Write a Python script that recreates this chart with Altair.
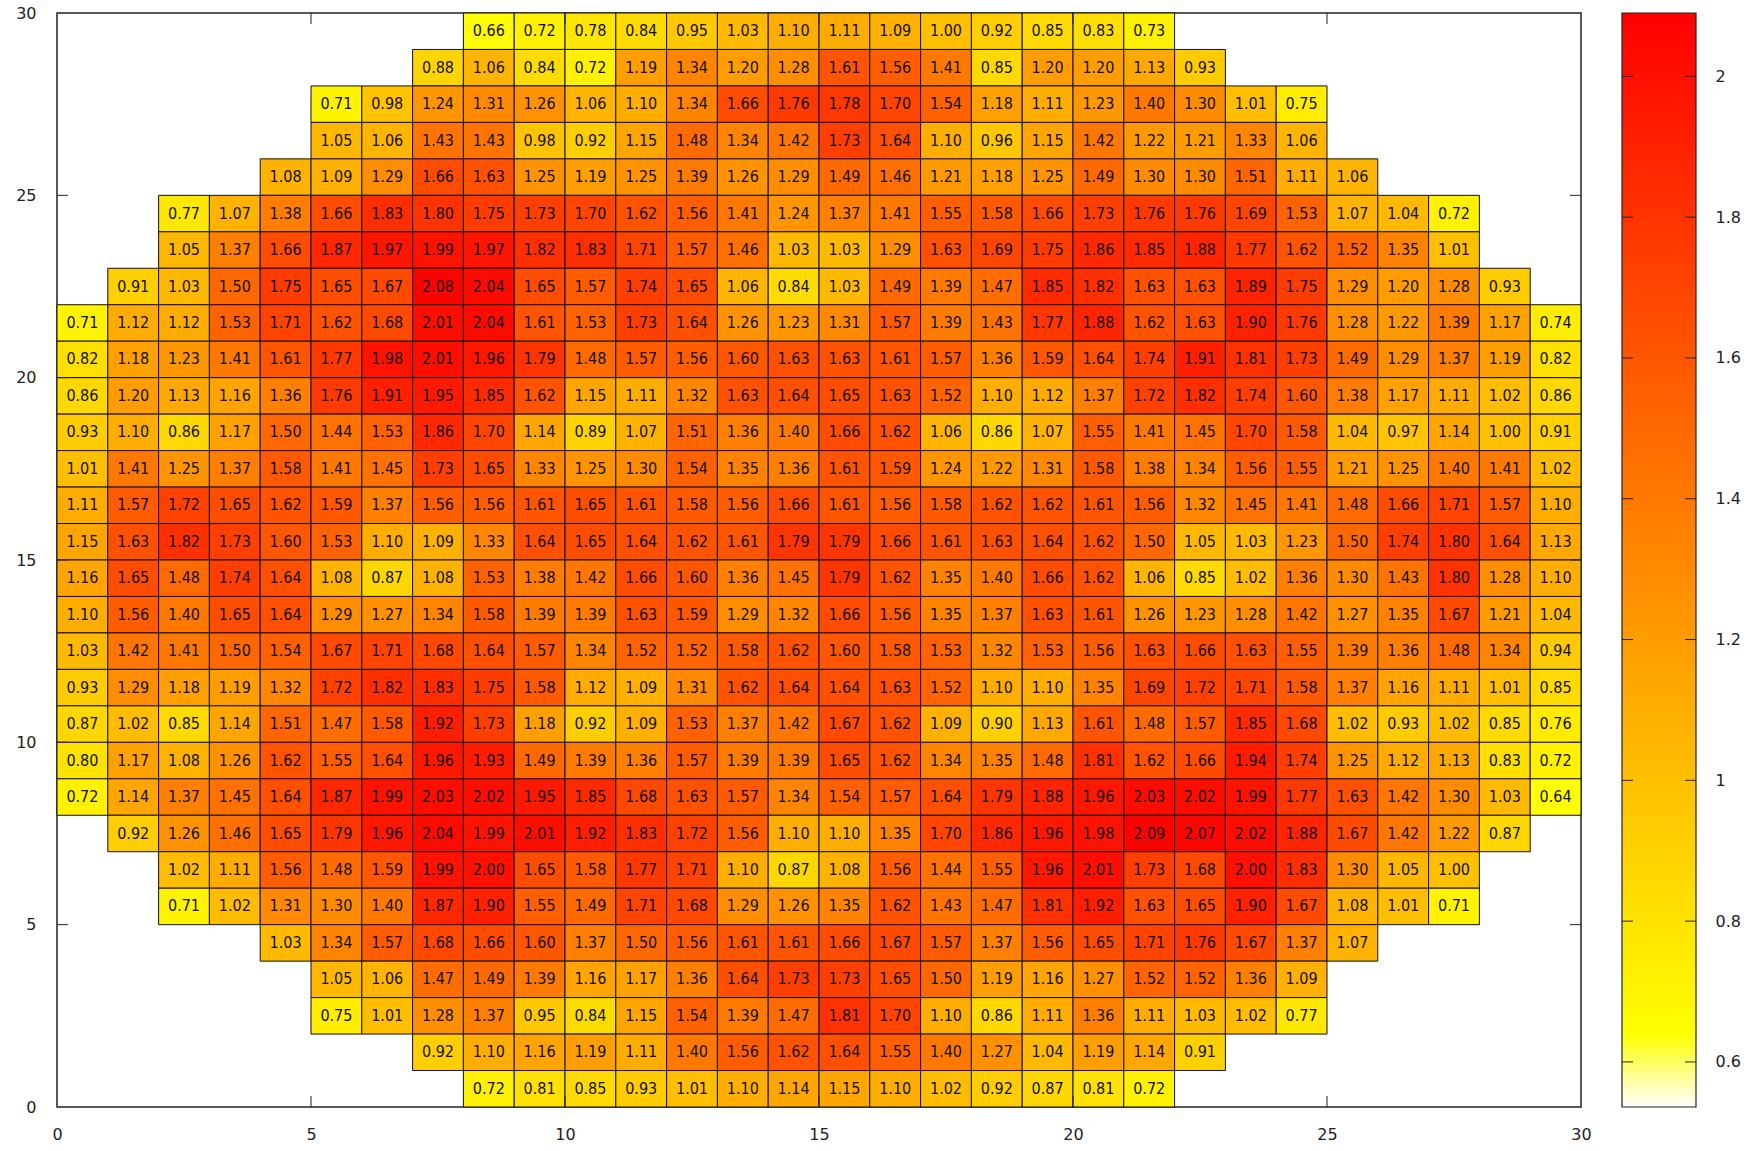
import altair as alt
import pandas as pd

# ---- data (rows listed from top y=29 down to y=0) ----
row_y = list(range(29, -1, -1))
first_col = [8, 7, 5, 5, 4, 2, 2, 1, 0, 0, 0, 0, 0, 0, 0, 0, 0, 0, 0, 0, 0, 0, 1, 2, 2, 4, 5, 5, 7, 8]

r29 = [0.66, 0.72, 0.78, 0.84, 0.95, 1.03, 1.10, 1.11, 1.09, 1.00, 0.92, 0.85, 0.83, 0.73]
r28 = [0.88, 1.06, 0.84, 0.72, 1.19, 1.34, 1.20, 1.28, 1.61, 1.56, 1.41, 0.85, 1.20, 1.20, 1.13, 0.93]
r27 = [0.71, 0.98, 1.24, 1.31, 1.26, 1.06, 1.10, 1.34, 1.66, 1.76, 1.78, 1.70, 1.54, 1.18, 1.11, 1.23, 1.40, 1.30, 1.01, 0.75]
r26 = [1.05, 1.06, 1.43, 1.43, 0.98, 0.92, 1.15, 1.48, 1.34, 1.42, 1.73, 1.64, 1.10, 0.96, 1.15, 1.42, 1.22, 1.21, 1.33, 1.06]
r25 = [1.08, 1.09, 1.29, 1.66, 1.63, 1.25, 1.19, 1.25, 1.39, 1.26, 1.29, 1.49, 1.46, 1.21, 1.18, 1.25, 1.49, 1.30, 1.30, 1.51, 1.11, 1.06]
r24 = [0.77, 1.07, 1.38, 1.66, 1.83, 1.80, 1.75, 1.73, 1.70, 1.62, 1.56, 1.41, 1.24, 1.37, 1.41, 1.55, 1.58, 1.66, 1.73, 1.76, 1.76, 1.69, 1.53, 1.07, 1.04, 0.72]
r23 = [1.05, 1.37, 1.66, 1.87, 1.97, 1.99, 1.97, 1.82, 1.83, 1.71, 1.57, 1.46, 1.03, 1.03, 1.29, 1.63, 1.69, 1.75, 1.86, 1.85, 1.88, 1.77, 1.62, 1.52, 1.35, 1.01]
r22 = [0.91, 1.03, 1.50, 1.75, 1.65, 1.67, 2.08, 2.04, 1.65, 1.57, 1.74, 1.65, 1.06, 0.84, 1.03, 1.49, 1.39, 1.47, 1.85, 1.82, 1.63, 1.63, 1.89, 1.75, 1.29, 1.20, 1.28, 0.93]
r21 = [0.71, 1.12, 1.12, 1.53, 1.71, 1.62, 1.68, 2.01, 2.04, 1.61, 1.53, 1.73, 1.64, 1.26, 1.23, 1.31, 1.57, 1.39, 1.43, 1.77, 1.88, 1.62, 1.63, 1.90, 1.76, 1.28, 1.22, 1.39, 1.17, 0.74]
r20 = [0.82, 1.18, 1.23, 1.41, 1.61, 1.77, 1.98, 2.01, 1.96, 1.79, 1.48, 1.57, 1.56, 1.60, 1.63, 1.63, 1.61, 1.57, 1.36, 1.59, 1.64, 1.74, 1.91, 1.81, 1.73, 1.49, 1.29, 1.37, 1.19, 0.82]
r19 = [0.86, 1.20, 1.13, 1.16, 1.36, 1.76, 1.91, 1.95, 1.85, 1.62, 1.15, 1.11, 1.32, 1.63, 1.64, 1.65, 1.63, 1.52, 1.10, 1.12, 1.37, 1.72, 1.82, 1.74, 1.60, 1.38, 1.17, 1.11, 1.02, 0.86]
r18 = [0.93, 1.10, 0.86, 1.17, 1.50, 1.44, 1.53, 1.86, 1.70, 1.14, 0.89, 1.07, 1.51, 1.36, 1.40, 1.66, 1.62, 1.06, 0.86, 1.07, 1.55, 1.41, 1.45, 1.70, 1.58, 1.04, 0.97, 1.14, 1.00, 0.91]
r17 = [1.01, 1.41, 1.25, 1.37, 1.58, 1.41, 1.45, 1.73, 1.65, 1.33, 1.25, 1.30, 1.54, 1.35, 1.36, 1.61, 1.59, 1.24, 1.22, 1.31, 1.58, 1.38, 1.34, 1.56, 1.55, 1.21, 1.25, 1.40, 1.41, 1.02]
r16 = [1.11, 1.57, 1.72, 1.65, 1.62, 1.59, 1.37, 1.56, 1.56, 1.61, 1.65, 1.61, 1.58, 1.56, 1.66, 1.61, 1.56, 1.58, 1.62, 1.62, 1.61, 1.56, 1.32, 1.45, 1.41, 1.48, 1.66, 1.71, 1.57, 1.10]
r15 = [1.15, 1.63, 1.82, 1.73, 1.60, 1.53, 1.10, 1.09, 1.33, 1.64, 1.65, 1.64, 1.62, 1.61, 1.79, 1.79, 1.66, 1.61, 1.63, 1.64, 1.62, 1.50, 1.05, 1.03, 1.23, 1.50, 1.74, 1.80, 1.64, 1.13]
r14 = [1.16, 1.65, 1.48, 1.74, 1.64, 1.08, 0.87, 1.08, 1.53, 1.38, 1.42, 1.66, 1.60, 1.36, 1.45, 1.79, 1.62, 1.35, 1.40, 1.66, 1.62, 1.06, 0.85, 1.02, 1.36, 1.30, 1.43, 1.80, 1.28, 1.10]
r13 = [1.10, 1.56, 1.40, 1.65, 1.64, 1.29, 1.27, 1.34, 1.58, 1.39, 1.39, 1.63, 1.59, 1.29, 1.32, 1.66, 1.56, 1.35, 1.37, 1.63, 1.61, 1.26, 1.23, 1.28, 1.42, 1.27, 1.35, 1.67, 1.21, 1.04]
r12 = [1.03, 1.42, 1.41, 1.50, 1.54, 1.67, 1.71, 1.68, 1.64, 1.57, 1.34, 1.52, 1.52, 1.58, 1.62, 1.60, 1.58, 1.53, 1.32, 1.53, 1.56, 1.63, 1.66, 1.63, 1.55, 1.39, 1.36, 1.48, 1.34, 0.94]
r11 = [0.93, 1.29, 1.18, 1.19, 1.32, 1.72, 1.82, 1.83, 1.75, 1.58, 1.12, 1.09, 1.31, 1.62, 1.64, 1.64, 1.63, 1.52, 1.10, 1.10, 1.35, 1.69, 1.72, 1.71, 1.58, 1.37, 1.16, 1.11, 1.01, 0.85]
r10 = [0.87, 1.02, 0.85, 1.14, 1.51, 1.47, 1.58, 1.92, 1.73, 1.18, 0.92, 1.09, 1.53, 1.37, 1.42, 1.67, 1.62, 1.09, 0.90, 1.13, 1.61, 1.48, 1.57, 1.85, 1.68, 1.02, 0.93, 1.02, 0.85, 0.76]
r9 = [0.80, 1.17, 1.08, 1.26, 1.62, 1.55, 1.64, 1.96, 1.93, 1.49, 1.39, 1.36, 1.57, 1.39, 1.39, 1.65, 1.62, 1.34, 1.35, 1.48, 1.81, 1.62, 1.66, 1.94, 1.74, 1.25, 1.12, 1.13, 0.83, 0.72]
r8 = [0.72, 1.14, 1.37, 1.45, 1.64, 1.87, 1.99, 2.03, 2.02, 1.95, 1.85, 1.68, 1.63, 1.57, 1.34, 1.54, 1.57, 1.64, 1.79, 1.88, 1.96, 2.03, 2.02, 1.99, 1.77, 1.63, 1.42, 1.30, 1.03, 0.64]
r7 = [0.92, 1.26, 1.46, 1.65, 1.79, 1.96, 2.04, 1.99, 2.01, 1.92, 1.83, 1.72, 1.56, 1.10, 1.10, 1.35, 1.70, 1.86, 1.96, 1.98, 2.09, 2.07, 2.02, 1.88, 1.67, 1.42, 1.22, 0.87]
r6 = [1.02, 1.11, 1.56, 1.48, 1.59, 1.99, 2.00, 1.65, 1.58, 1.77, 1.71, 1.10, 0.87, 1.08, 1.56, 1.44, 1.55, 1.96, 2.01, 1.73, 1.68, 2.00, 1.83, 1.30, 1.05, 1.00]
r5 = [0.71, 1.02, 1.31, 1.30, 1.40, 1.87, 1.90, 1.55, 1.49, 1.71, 1.68, 1.29, 1.26, 1.35, 1.62, 1.43, 1.47, 1.81, 1.92, 1.63, 1.65, 1.90, 1.67, 1.08, 1.01, 0.71]
r4 = [1.03, 1.34, 1.57, 1.68, 1.66, 1.60, 1.37, 1.50, 1.56, 1.61, 1.61, 1.66, 1.67, 1.57, 1.37, 1.56, 1.65, 1.71, 1.76, 1.67, 1.37, 1.07]
r3 = [1.05, 1.06, 1.47, 1.49, 1.39, 1.16, 1.17, 1.36, 1.64, 1.73, 1.73, 1.65, 1.50, 1.19, 1.16, 1.27, 1.52, 1.52, 1.36, 1.09]
r2 = [0.75, 1.01, 1.28, 1.37, 0.95, 0.84, 1.15, 1.54, 1.39, 1.47, 1.81, 1.70, 1.10, 0.86, 1.11, 1.36, 1.11, 1.03, 1.02, 0.77]
r1 = [0.92, 1.10, 1.16, 1.19, 1.11, 1.40, 1.56, 1.62, 1.64, 1.55, 1.40, 1.27, 1.04, 1.19, 1.14, 0.91]
r0 = [0.72, 0.81, 0.85, 0.93, 1.01, 1.10, 1.14, 1.15, 1.10, 1.02, 0.92, 0.87, 0.81, 0.72]

rows = [r29, r28, r27, r26, r25, r24, r23, r22, r21, r20, r19, r18, r17, r16, r15,
        r14, r13, r12, r11, r10, r9, r8, r7, r6, r5, r4, r3, r2, r1, r0]

axis_ticks = [0, 5, 10, 15, 20, 25, 30]
inner_ticks = [5, 10, 15, 20, 25]
cb_ticks = [0.6, 0.8, 1.0, 1.2, 1.4, 1.6, 1.8, 2.0]
cb_domain = [0.536, 2.09]
palette_values = [0.536, 0.64, 2.09]
palette_colors = ["#ffffff", "#ffff00", "#ff0000"]

# ---- build table ----
recs = []
for y, x0, vals in zip(row_y, first_col, rows):
    for i, v in enumerate(vals):
        x = x0 + i
        recs.append({"x0": x, "x1": x + 1, "y0": y, "y1": y + 1,
                     "xc": x + 0.5, "yc": y + 0.5, "v": v})
df = pd.DataFrame(recs)
ticks_df = pd.DataFrame({"t": inner_ticks})
cb_df = pd.DataFrame({"t": cb_ticks})

W, H = 1524, 1094
CBW = 74
TL = 11
AXFONT = "DejaVu Sans"
CELLFONT = "Liberation Sans Narrow, DejaVu Sans Condensed, Liberation Sans, sans-serif"

xscale = alt.Scale(domain=[0, 30], nice=False, zero=False)
yscale = alt.Scale(domain=[0, 30], nice=False, zero=False)
xaxis = alt.Axis(values=axis_ticks, format="d", grid=False, ticks=False, tickSize=0,
                 domain=False, labelPadding=19, labelFontSize=16, labelFont=AXFONT,
                 labelColor="#222", labelFlush=False, title=None)
yaxis = alt.Axis(values=axis_ticks, format="d", grid=False, ticks=False, tickSize=0,
                 domain=False, labelPadding=21, labelFontSize=16, labelFont=AXFONT,
                 labelColor="#222", labelFlush=False, minExtent=51, maxExtent=51, title=None)

color = alt.Color("v:Q", scale=alt.Scale(domain=palette_values, range=palette_colors,
                                         interpolate="rgb", clamp=True), legend=None)

cells = alt.Chart(df).mark_rect(stroke="#111", strokeWidth=1).encode(
    x=alt.X("x0:Q", scale=xscale, axis=xaxis, title=None),
    x2="x1:Q",
    y=alt.Y("y0:Q", scale=yscale, axis=yaxis, title=None),
    y2="y1:Q",
    color=color,
)
labels = alt.Chart(df).mark_text(font=CELLFONT, fontSize=16, color="#111",
                                 align="center", baseline="middle").encode(
    x=alt.X("xc:Q", title=None),
    y=alt.Y("yc:Q", title=None),
    text=alt.Text("v:Q", format=".2f"),
)
tb = alt.Chart(ticks_df).mark_rule(color="#222", strokeWidth=1).encode(
    x=alt.X("t:Q", title=None), y=alt.value(H), y2=alt.value(H - TL))
tt = alt.Chart(ticks_df).mark_rule(color="#222", strokeWidth=1).encode(
    x=alt.X("t:Q", title=None), y=alt.value(0), y2=alt.value(TL))
tl = alt.Chart(ticks_df).mark_rule(color="#222", strokeWidth=1).encode(
    y=alt.Y("t:Q", title=None), x=alt.value(0), x2=alt.value(TL))
tr = alt.Chart(ticks_df).mark_rule(color="#222", strokeWidth=1).encode(
    y=alt.Y("t:Q", title=None), x=alt.value(W), x2=alt.value(W - TL))

main = alt.layer(cells, labels, tb, tt, tl, tr).properties(
    width=W, height=H,
    view=alt.ViewBackground(stroke="#222", strokeWidth=1.5),
)

# ---- colour bar ----
stops = [alt.GradientStop(color=c, offset=(v - cb_domain[0]) / (cb_domain[1] - cb_domain[0]))
         for v, c in zip(palette_values, palette_colors)]
grad = alt.Gradient(gradient="linear", stops=stops, x1=0, x2=0, y1=1, y2=0)
bar = alt.Chart(pd.DataFrame({"a": [0]})).mark_rect(
    color=grad, stroke="#222", strokeWidth=1.2).encode(
    x=alt.value(0), x2=alt.value(CBW), y=alt.value(0), y2=alt.value(H))
cb_axis = alt.Axis(values=cb_ticks, format="~g", orient="right", grid=False, ticks=False,
                   tickSize=0, domain=False, labelPadding=19, labelFontSize=16,
                   labelFont=AXFONT, labelColor="#222", labelFlush=False, title=None)
cb_scale = alt.Scale(domain=cb_domain, nice=False, zero=False)
cbl = alt.Chart(cb_df).mark_rule(color="#222", strokeWidth=1).encode(
    y=alt.Y("t:Q", scale=cb_scale, axis=cb_axis, title=None),
    x=alt.value(0), x2=alt.value(TL))
cbr = alt.Chart(cb_df).mark_rule(color="#222", strokeWidth=1).encode(
    y=alt.Y("t:Q", title=None), x=alt.value(CBW - TL), x2=alt.value(CBW))
colorbar = alt.layer(bar, cbl, cbr).properties(
    width=CBW, height=H,
    view=alt.ViewBackground(stroke="transparent"),
)

chart = alt.hconcat(main, colorbar, spacing=28).properties(
    padding={"left": 5, "top": 4, "right": 5, "bottom": 5},
    background="white",
).configure_view(stroke="transparent")

chart.save("out.html", embed_options={"renderer": "svg", "actions": False})
